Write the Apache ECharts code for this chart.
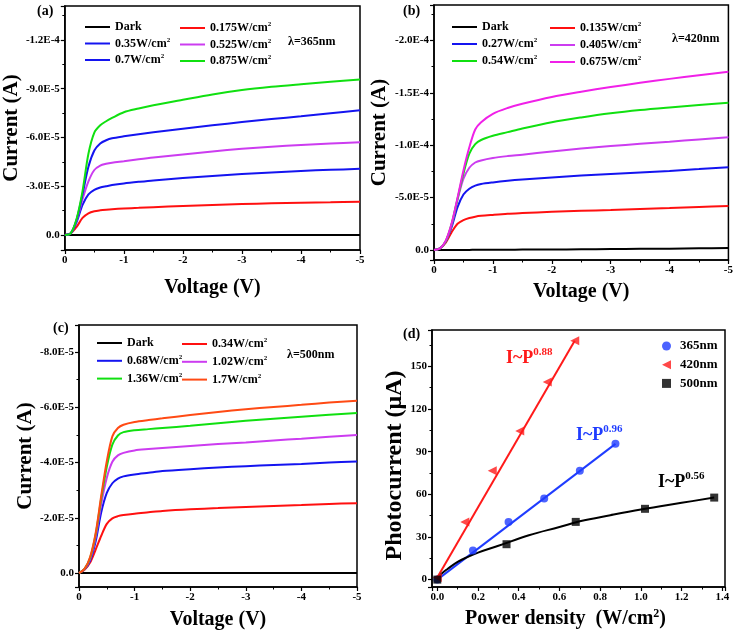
<!DOCTYPE html>
<html>
<head>
<meta charset="utf-8">
<script src="https://cdn.jsdelivr.net/npm/echarts@6/dist/echarts.min.js"></script>
<style>html,body{margin:0;padding:0;background:#fff}#main{width:736px;height:634px}</style>
</head>
<body>
<div id="main"></div>
<script>
var FONT = '"Liberation Serif","Times New Roman",serif';

// 电压采样点 (V)
var volts = [0, -0.1, -0.2, -0.3, -0.4, -0.5, -0.6, -0.7, -0.8, -1, -1.25, -1.5, -2, -2.5, -3, -3.5, -4, -4.5, -5];

// (a) 365nm  电流幅值 (uA)
var aNames = ['Dark', '0.175W/cm2', '0.35W/cm2', '0.525W/cm2', '0.7W/cm2', '0.875W/cm2'];
var aDark = [0, 0, 0, 0, 0, 0, 0, 0, 0, 0, 0, 0, 0, 0, 0, 0, 0, 0, 0];
var a175 = [0, 1, 5, 10.5, 13.3, 14.6, 15.2, 15.6, 15.9, 16.3, 16.7, 17.1, 17.8, 18.4, 19, 19.5, 19.9, 20.2, 20.5];
var a350 = [0, 1, 8, 18.5, 25, 27.8, 29.2, 30, 30.7, 31.7, 32.7, 33.6, 35, 36.3, 37.5, 38.5, 39.4, 40.1, 40.7];
var a525 = [0, 1, 9, 22, 33, 40, 42.7, 43.8, 44.5, 45.4, 46.6, 47.7, 49.6, 51.4, 53, 54.3, 55.4, 56.3, 57.1];
var a700 = [0, 1, 9.5, 25, 42, 52, 56.3, 58.3, 59.5, 60.7, 62, 63.2, 65.4, 67.5, 69.5, 71.3, 73, 74.9, 76.7];
var a875 = [0, 1, 10, 27, 50, 63, 67.5, 70, 72, 75.5, 77.8, 79.8, 83.2, 86.5, 89.2, 91.2, 92.8, 94.3, 95.7];
var aColors = ['#000000', '#ff1010', '#1414f0', '#cc3cf0', '#1414f0', '#10e010'];

// (b) 420nm
var bNames = ['Dark', '0.135W/cm2', '0.27W/cm2', '0.405W/cm2', '0.54W/cm2', '0.675W/cm2'];
var bDark = [0, 0, 0, 0, 0.1, 0.1, 0.1, 0.2, 0.2, 0.2, 0.3, 0.4, 0.5, 0.7, 0.9, 1.1, 1.3, 1.6, 1.9];
var b135 = [0, 1.5, 7, 17, 25, 28.5, 30.5, 31.8, 32.6, 33.5, 34.5, 35.2, 36.5, 37.4, 38.2, 39.1, 40, 41, 42];
var b270 = [0, 1.5, 8, 22, 41, 53, 58.5, 61.5, 63, 64.5, 66, 67.2, 69.2, 71, 72.5, 74, 75.5, 77.2, 79];
var b405 = [0, 1.5, 8.5, 24, 48, 68, 78.5, 83.5, 85.5, 87.8, 89.6, 91, 94, 96.8, 99.2, 101.3, 103.3, 105.5, 107.5];
var b540 = [0, 1.5, 8.5, 25, 49, 73, 92, 101, 105, 109, 112.5, 116, 122, 126.5, 130.4, 133.5, 136, 138.3, 140.6];
var b675 = [0, 1.5, 9, 25.5, 50, 76, 98, 115, 122, 130, 135.5, 139.5, 146, 151, 155.5, 159.5, 163.3, 166.8, 170];
var bColors = ['#000000', '#ff1010', '#1414f0', '#cc3cf0', '#10e010', '#f020e8'];

// (c) 500nm
var cNames = ['Dark', '0.34W/cm2', '0.68W/cm2', '1.02W/cm2', '1.36W/cm2', '1.7W/cm2'];
var cDark = [0, 0, 0, 0, 0, 0, 0, 0, 0, 0, 0, 0, 0, 0, 0, 0, 0, 0, 0];
var c34 = [0, 1.2, 3.8, 8.5, 13.5, 17.8, 19.8, 20.6, 21, 21.5, 22, 22.5, 23.1, 23.5, 23.9, 24.3, 24.6, 25, 25.3];
var c68 = [0, 1.3, 4.5, 11.5, 22, 29, 32.5, 34.2, 35, 35.7, 36.3, 36.9, 37.6, 38.2, 38.7, 39.1, 39.5, 40, 40.4];
var c102 = [0, 1.4, 5, 13, 25, 34.5, 40.3, 42.6, 43.5, 44.4, 44.9, 45.3, 46, 46.7, 47.3, 48, 48.6, 49.3, 50];
var c136 = [0, 1.5, 5.5, 14, 27, 38.5, 46.5, 49.8, 51, 51.7, 52.1, 52.5, 53.3, 54.2, 55.1, 55.9, 56.6, 57.3, 57.9];
var c170 = [0, 1.5, 5.8, 14.5, 28, 40.5, 49.5, 52.5, 53.7, 54.7, 55.4, 56, 57.2, 58.3, 59.3, 60.1, 60.9, 61.7, 62.4];
var cColors = ['#000000', '#ff1010', '#1414f0', '#cc3cf0', '#10e010', '#ff4a14'];

// (d) 光电流-功率密度
var p365 = [0, 0.175, 0.35, 0.525, 0.7, 0.875];
var i365 = [0, 20.5, 40.5, 57, 76.5, 95.5];
var p420 = [0, 0.135, 0.27, 0.405, 0.54, 0.675];
var i420 = [1.5, 40.5, 76.5, 104.5, 139, 168];
var p500 = [0, 0.34, 0.68, 1.02, 1.36];
var i500 = [0, 24.9, 40.6, 49.8, 57.7];
// 拟合线
var fit365P = [0, 0.875];
var fit365I = [0, 95.5];
var fit420P = [0, 0.675];
var fit420I = [1.5, 168];
var fit500P = [0, 0.02, 0.05, 0.1, 0.15, 0.2, 0.3, 0.45, 0.6, 0.7, 0.85, 1.0, 1.2, 1.36];
var fit500I = [0, 4, 7.5, 12.5, 16, 19, 23.8, 31.2, 37, 41, 45.3, 49.3, 54, 57.7];

var myChart = echarts.init(document.getElementById('main'));

function pairs(xs, ys, k) {
    return xs.map(function (x, i) { return [x, ys[i] * k]; });
}

function expLabel(step) {
    return function (v) {
        var k = v / step;
        if (Math.abs(k - Math.round(k)) > 1e-6) return '';
        if (Math.abs(v) < 1e-12) return '0.0';
        return v.toExponential(1).toUpperCase();
    };
}

function supName(n) {
    if (n.slice(-3) === 'cm2') return '{t|' + n.slice(0, -1) + '}{s|2}';
    return '{t|' + n + '}';
}

var legendText = {
    fontFamily: FONT, fontWeight: 'bold', fontSize: 12, color: '#000',
    rich: {
        t: { fontFamily: FONT, fontWeight: 'bold', fontSize: 12, lineHeight: 14, color: '#000' },
        s: { fontFamily: FONT, fontWeight: 'bold', fontSize: 7, lineHeight: 14, verticalAlign: 'top', color: '#000' }
    }
};

function legendCol(names, left, top, gap, idx) {
    return {
        orient: 'vertical', left: left, top: top, itemGap: gap,
        itemWidth: 25, itemHeight: 2, icon: 'rect',
        data: idx.map(function (i) { return names[i]; }),
        formatter: supName, textStyle: legendText, selectedMode: false
    };
}

var tickFont = { fontFamily: FONT, fontWeight: 'bold', fontSize: 11, color: '#000' };
var nameFont = { fontFamily: FONT, fontWeight: 'bold', fontSize: 20, color: '#000' };
var axLine = { show: true, onZero: false, lineStyle: { color: '#000', width: 1.5 } };
var axTick = { show: true, inside: false, length: 4, lineStyle: { color: '#000', width: 1.2 } };
var minTick = { show: true, splitNumber: 2, length: 2.5, lineStyle: { color: '#000', width: 1 } };

function vAxis(gi, gap) {
    return {
        gridIndex: gi, type: 'value', inverse: true, min: -5, max: 0, interval: 1,
        name: 'Voltage (V)', nameLocation: 'middle', nameGap: gap, nameTextStyle: nameFont,
        axisLine: axLine, axisTick: axTick, minorTick: minTick, splitLine: { show: false },
        axisLabel: Object.assign({ margin: 5, formatter: function (v) { return String(v); } }, tickFont)
    };
}

function iAxis(gi, min, max, step, gap) {
    return {
        gridIndex: gi, type: 'value', inverse: true, min: min, max: max,
        name: 'Current (A)', nameLocation: 'middle', nameGap: gap, nameRotate: 90,
        nameTextStyle: Object.assign({}, nameFont, { fontSize: 21 }),
        axisLine: axLine, axisTick: axTick, minorTick: minTick, splitLine: { show: false },
        axisLabel: Object.assign({ margin: 5, showMinLabel: false, showMaxLabel: false, formatter: expLabel(step) }, tickFont)
    };
}

var xAxes = [vAxis(0, 28), vAxis(1, 22), vAxis(2, 23)];
xAxes.push({
    gridIndex: 3, type: 'value', min: -0.026, max: 1.413, splitNumber: 7,
    name: '{t|Power density  (W/cm}{s|2}{t|)}', nameLocation: 'middle', nameGap: 21,
    nameTextStyle: {
        padding: [0, 26, 0, 0],
        rich: {
            t: { fontFamily: FONT, fontWeight: 'bold', fontSize: 20, lineHeight: 22, color: '#000' },
            s: { fontFamily: FONT, fontWeight: 'bold', fontSize: 12, lineHeight: 22, verticalAlign: 'top', color: '#000' }
        }
    },
    axisLine: axLine, axisTick: axTick, minorTick: minTick, splitLine: { show: false },
    axisLabel: Object.assign({ margin: 5, showMinLabel: false, showMaxLabel: false, formatter: function (v) { return Math.abs(v * 5 - Math.round(v * 5)) < 1e-6 ? v.toFixed(1) : ''; } }, tickFont)
});

var yAxes = [
    iAxis(0, -1.409e-4, 0.923e-5, 3e-5, 38),
    iAxis(1, -2.338e-4, 0.954e-5, 5e-5, 44),
    iAxis(2, -0.898e-4, 0.506e-5, 2e-5, 38),
    {
        gridIndex: 3, type: 'value', min: -5.2, max: 175.6,
        name: 'Photocurrent (\u03bcA)', nameLocation: 'middle', nameGap: 25, nameRotate: 90,
        nameTextStyle: Object.assign({}, nameFont, { fontSize: 24, padding: [0, 14, 0, 0] }),
        axisLine: axLine, axisTick: axTick, minorTick: minTick, splitLine: { show: false },
        axisLabel: Object.assign({ margin: 5, showMinLabel: false, showMaxLabel: false, formatter: function (v) { return Math.abs(v / 30 - Math.round(v / 30)) < 1e-6 ? String(Math.round(v)) : ''; } }, tickFont)
    }
];

var series = [];
function addIV(gi, names, arrs, colors) {
    arrs.forEach(function (vals, i) {
        series.push({
            name: names[i], type: 'line', xAxisIndex: gi, yAxisIndex: gi,
            data: pairs(volts, vals, -1e-6), smooth: 0.3,
            showSymbol: false, symbol: 'none',
            lineStyle: { color: colors[i], width: 2 }, itemStyle: { color: colors[i] },
            z: i === 0 ? 1 : 2
        });
    });
}
addIV(0, aNames, [aDark, a175, a350, a525, a700, a875], aColors);
addIV(1, bNames, [bDark, b135, b270, b405, b540, b675], bColors);
addIV(2, cNames, [cDark, c34, c68, c102, c136, c170], cColors);

// (d) 拟合线
function fitLine(xs, ys, color, smooth) {
    series.push({
        name: 'fit', type: 'line', xAxisIndex: 3, yAxisIndex: 3, data: pairs(xs, ys, 1),
        smooth: smooth, showSymbol: false, symbol: 'none', silent: true,
        lineStyle: { color: color, width: 2 }
    });
}
fitLine(fit420P, fit420I, '#ff1a1a', false);
fitLine(fit365P, fit365I, '#1f3cff', false);
fitLine(fit500P, fit500I, '#000000', 0.4);

var triLeft = 'path://M0,5L10,0L10,10Z';
series.push(
    { name: '365nm', type: 'scatter', xAxisIndex: 3, yAxisIndex: 3, data: pairs(p365, i365, 1), symbol: 'circle', symbolSize: 8, itemStyle: { color: '#1f3cff' }, z: 5 },
    { name: '420nm', type: 'scatter', xAxisIndex: 3, yAxisIndex: 3, data: pairs(p420, i420, 1), symbol: triLeft, symbolSize: 9, itemStyle: { color: '#ff1a1a' }, z: 5 },
    { name: '500nm', type: 'scatter', xAxisIndex: 3, yAxisIndex: 3, data: pairs(p500, i500, 1), symbol: 'rect', symbolSize: 8, itemStyle: { color: '#000000' }, z: 5 }
);

var gridStyle = { show: true, borderColor: '#000', borderWidth: 1.5, backgroundColor: 'transparent' };

function txt(x, y, text, size, color) {
    return { type: 'text', x: x, y: y, style: { text: text, fill: color || '#000', font: 'bold ' + size + 'px ' + FONT, verticalAlign: 'middle' } };
}
function powText(x, y, exp, color) {
    return {
        type: 'text', x: x, y: y,
        style: {
            text: '{m|I~P}{s|' + exp + '}', verticalAlign: 'middle',
            rich: {
                m: { fontFamily: FONT, fontWeight: 'bold', fontSize: 18, lineHeight: 22, fill: color },
                s: { fontFamily: FONT, fontWeight: 'bold', fontSize: 11, lineHeight: 22, verticalAlign: 'top', fill: color }
            }
        }
    };
}

var option = {
    animation: false,
    backgroundColor: '#fff',
    grid: [
        Object.assign({ left: 60, top: 6, width: 300, height: 244 }, gridStyle),
        Object.assign({ left: 434, top: 5, width: 296, height: 255 }, gridStyle),
        Object.assign({ left: 79, top: 325, width: 278, height: 262 }, gridStyle),
        Object.assign({ left: 432, top: 330, width: 293, height: 257 }, gridStyle)
    ],
    xAxis: xAxes,
    yAxis: yAxes,
    legend: [
        legendCol(aNames, 80, 16, 3.5, [0, 2, 4]),
        legendCol(aNames, 175, 16, 3.5, [1, 3, 5]),
        legendCol(bNames, 447, 16, 4, [0, 2, 4]),
        legendCol(bNames, 545, 16, 4, [1, 3, 5]),
        legendCol(cNames, 92, 332, 4.8, [0, 2, 4]),
        legendCol(cNames, 177, 332, 4.8, [1, 3, 5]),
        {
            orient: 'vertical', left: 657, top: 334, itemGap: 4.7, itemWidth: 9, itemHeight: 9,
            selectedMode: false,
            data: [{ name: '365nm', icon: 'circle' }, { name: '420nm', icon: triLeft }, { name: '500nm', icon: 'rect' }],
            textStyle: { fontFamily: FONT, fontWeight: 'bold', fontSize: 13, lineHeight: 14, color: '#000', padding: [0, 0, 0, 4] }
        }
    ],
    graphic: [
        txt(37, 11, '(a)', 14), txt(403, 11, '(b)', 14), txt(53, 328, '(c)', 14), txt(403, 334, '(d)', 14),
        txt(288, 42, '\u03bb=365nm', 12), txt(672, 39, '\u03bb=420nm', 12), txt(287, 355, '\u03bb=500nm', 12),
        powText(506, 358, '0.88', '#ff1a1a'),
        powText(576, 435, '0.96', '#1f3cff'),
        powText(658, 482, '0.56', '#000000')
    ],
    series: series
};

myChart.setOption(option);
window.addEventListener('resize', function () { myChart.resize(); });
</script>
</body>
</html>
